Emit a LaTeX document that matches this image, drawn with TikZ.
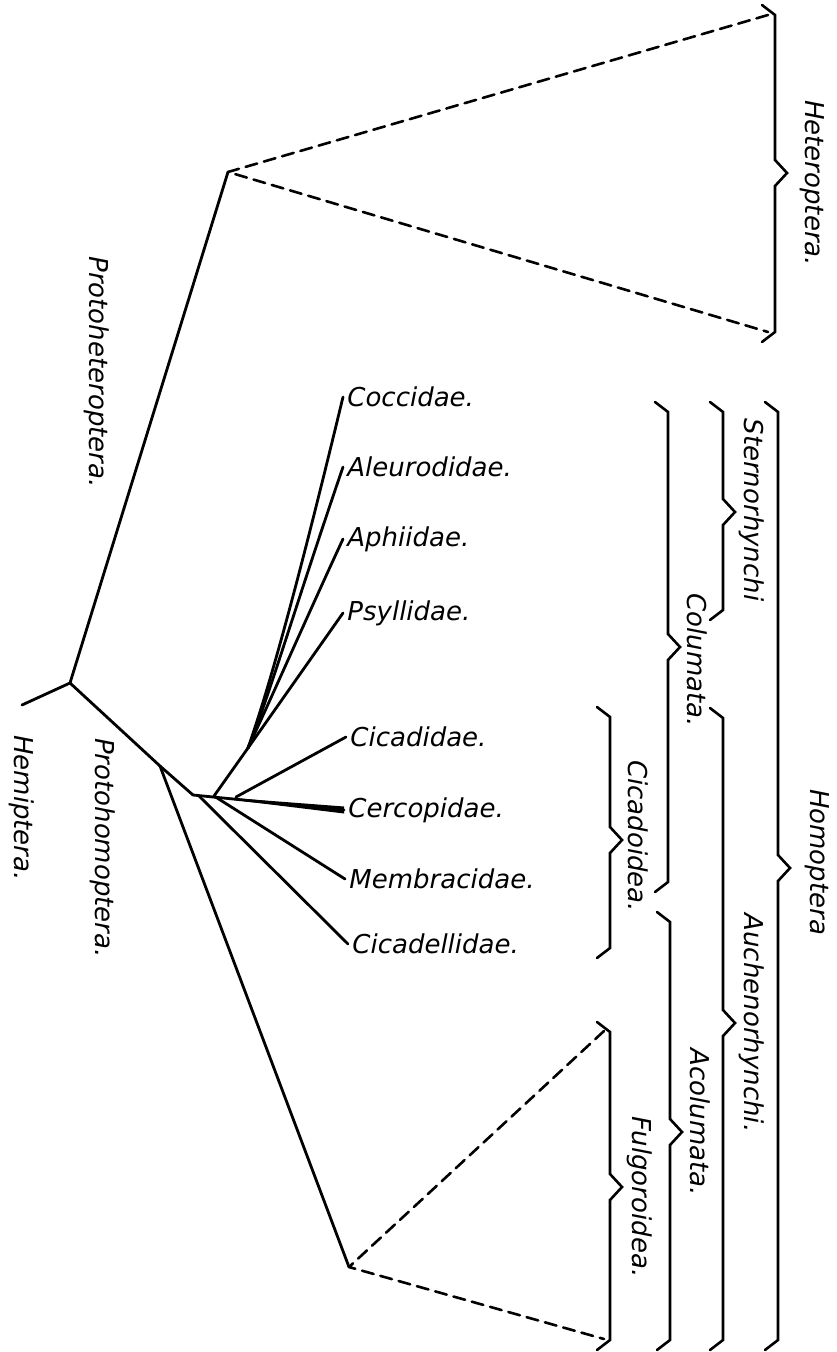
\documentclass[tikz,border=0pt]{standalone}
\usepackage{amsmath,amssymb}
\usepackage{fontspec}
\setsansfont{DejaVu Sans}
\usetikzlibrary{calc,positioning}

% one unit = one pixel of the drawing
\tikzset{
  branch/.style={line width=1.4pt},
  lineage/.style={line width=1.3pt, dash pattern=on 6pt off 3.5pt},
  brace/.style={line width=1.3pt, line join=miter},
  taxon/.style={font=\sffamily\itshape\fontsize{13}{15}\selectfont, inner sep=2pt, anchor=west},
  group/.style={taxon, anchor=center, rotate=-90}
}

% x, top, tip, bottom
\newcommand\cladebrace[4]{%
  \draw[brace] (#1-13,#2-10) -- (#1,#2) -- (#1,#3-13) -- (#1+12,#3)
    -- (#1,#3+13) -- (#1,#4) -- (#1-13,#4+10);}

\begin{document}
\begin{tikzpicture}[x=0.5pt, y=-0.5pt, line cap=round, line join=round]
		\useasboundingbox (0,0) rectangle (836,1352);
		
		% junctions
		\coordinate (root) at (70,683);
		\coordinate (hemi) at (22,705);
		\coordinate (hetJ) at (228,172);
		\coordinate (homJ) at (160,766);
		\coordinate (hub) at (193,795);
		\coordinate (hubA) at (199,796);
		\coordinate (hubB) at (214,796);
		\coordinate (hubC) at (236,797);
		\coordinate (sternJ) at (248,748);
		\coordinate (fulgJ) at (349,1267);
		
		% free ends of the dashed lineages
		\coordinate (hetTop) at (768,15);
		\coordinate (hetBot) at (768,332);
		\coordinate (fulgTop) at (604,1031);
		\coordinate (fulgBot) at (604,1339);
		
		% families
		\node[taxon] (coccidae) at (343,397) {Coccidae.};
		\node[taxon] (aleuro) at (343,467) {Aleurodidae.};
		\node[taxon] (aphid) at (343,539) {Aphiidae.};
		\node[taxon] (psyll) at (343,613) {Psyllidae.};
		\node[taxon] (cicad) at (346,737) {Cicadidae.};
		\node[taxon] (cercop) at (344,810) {Cercopidae.};
		\node[taxon] (membr) at (345,879) {Membracidae.};
		\node[taxon] (cicadell) at (348,944) {Cicadellidae.};
		
		% stem
		\draw[branch] (hemi) -- (root) -- (hetJ);
		\draw[branch] (root) -- (homJ) -- (hub);
		\draw[branch] (homJ) -- (fulgJ);
		
		% Sternorhynchi
		\draw[branch] (hubB) -- (sternJ);
		\draw[branch] (sternJ) .. controls (264,702) and (288,625) .. (coccidae.west);
		\draw[branch] (sternJ) .. controls (268,700) and (294,610) .. (aleuro.west);
		\draw[branch] (sternJ) .. controls (275,690) and (310,610) .. (aphid.west);
		\draw[branch] (sternJ) -- (psyll.west);
		
		% Auchenorhynchi
		\draw[branch] (hubC) -- (cicad.west);
		\fill (hub) -- ($(cercop.west)+(0,-3.5)$) -- ($(cercop.west)+(0,3.5)$) -- cycle;
		\draw[branch] (hub) -- (cercop.west);
		\draw[branch] (hubB) -- (membr.west);
		\draw[branch] (hubA) -- (cicadell.west);
		
		% dashed lineages
		\draw[lineage] (hetTop) -- (hetJ) -- (hetBot);
		\draw[lineage] (fulgTop) -- (fulgJ) -- (fulgBot);
		
		% braces
		\cladebrace{775}{15}{173}{332}
		\cladebrace{778}{412}{868}{1340}
		\cladebrace{723}{412}{512}{610}
		\cladebrace{668}{412}{647}{882}
		\cladebrace{610}{717}{840}{948}
		\cladebrace{723}{718}{1023}{1340}
		\cladebrace{670}{922}{1132}{1340}
		\cladebrace{610}{1032}{1187}{1340}
		
		% group names
		\node[group] (hetero) at (812,183) {Heteroptera.};
		\node[group] (homo) at (817,862) {Homoptera};
		\node[group] (sterno) at (752,510) {Sternorhynchi};
		\node[group] (colum) at (697,660) {Columata.};
		\node[group] (cicadoid) at (638,836) {Cicadoidea.};
		\node[group] (auchen) at (752,1023) {Auchenorhynchi.};
		\node[group] (acolum) at (700,1122) {Acolumata.};
		\node[group] (fulgor) at (640,1197) {Fulgoroidea.};
		\node[group] (protohet) at (97,372) {Protoheteroptera.};
		\node[group] (protohom) at (103,848) {Protohomoptera.};
		\node[group] (hemipt) at (22,808) {Hemiptera.};
		
	\end{tikzpicture}
\end{document}
